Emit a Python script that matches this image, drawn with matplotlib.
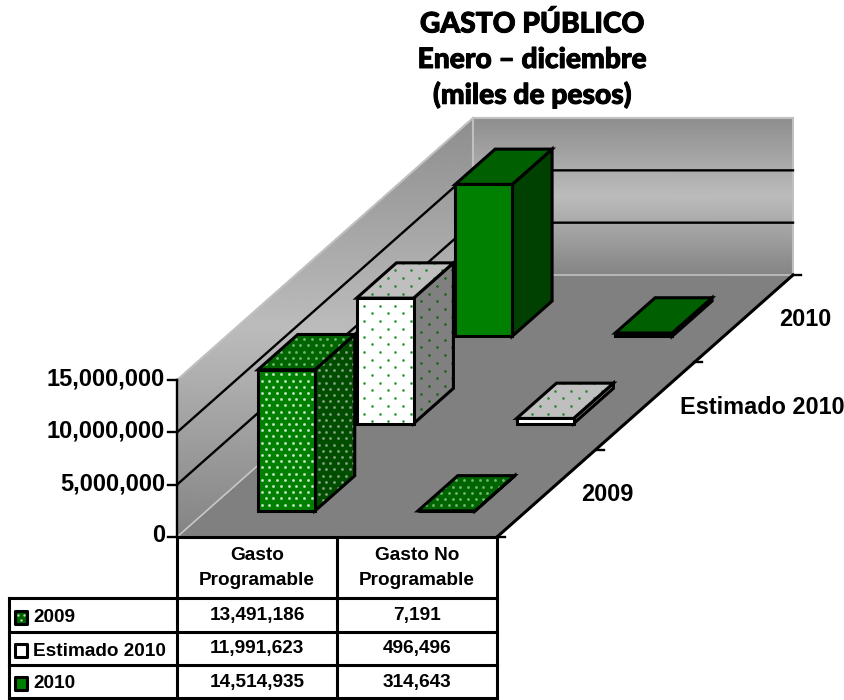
import numpy as np
import matplotlib
matplotlib.use("Agg")
import matplotlib.pyplot as plt
import matplotlib.patheffects as pe
from matplotlib.patches import Polygon
from matplotlib.colors import LinearSegmentedColormap

plt.rcParams['font.family'] = ['Liberation Sans', 'DejaVu Sans']

# data
categories = ["Gasto\nProgramable", "Gasto No\nProgramable"]
series_names = ["2009", "Estimado 2010", "2010"]
gasto_2009 = [13491186, 7191]
gasto_est = [11991623, 496496]
gasto_2010 = [14514935, 314643]
value_labels_2009 = ["13,491,186", "7,191"]
value_labels_est = ["11,991,623", "496,496"]
value_labels_2010 = ["14,514,935", "314,643"]
y_ticks = [0, 5000000, 10000000, 15000000]

# face, side, top colours, the dot colours for each of them and dot spacing
styles = [
    dict(front="#008000", side="#004d00", top="#006400", key="#006400",
         dfront="#c4e4c4", dside="#7f9f7f", dtop="#6fb56f", pitch=7.7, row=6.2, size=4.2),
    dict(front="#ffffff", side="#808080", top="#bfbfbf", key="#ffffff",
         dfront="#2e9a2e", dside="#1c641c", dtop="#2e8a2e", pitch=15.5, row=7.7, size=3.6),
    dict(front="#008000", side="#004000", top="#006000", key="#008000",
         dfront=None, dside=None, dtop=None, pitch=0, row=0, size=0),
]

# oblique projection used by Excel's 3D chart, in pixels
X0, Y0 = 177.0, 537.0
CAT_W = 160.0
SER_DX, SER_DY = 98.67, 87.33
PX_PER_UNIT = 157.0 / 15000000


def project(c, s, v):
    return X0 + CAT_W * c + SER_DX * s, Y0 - SER_DY * s - PX_PER_UNIT * v


fig = plt.figure(figsize=(8.45, 7.0), dpi=100)
ax = fig.add_axes([0, 0, 1, 1])
ax.set_xlim(0, 845)
ax.set_ylim(700, 0)
ax.axis("off")

LW = 2.2
GRID_LW = 1.7
wall_cmap = LinearSegmentedColormap.from_list(
    "wall", [(0, "#848484"), (0.5, "#bcbcbc"), (1, "#8e8e8e")])
vmax = y_ticks[-1]
vv = np.linspace(0, vmax, 60)

# left wall, the gradient runs straight up the screen
S, V = np.meshgrid(np.linspace(0, 3, 60), vv)
WX, WY = project(0, S, V)
top_y = project(0, 3, vmax)[1]
ax.pcolormesh(WX, WY, (Y0 - WY) / (Y0 - top_y), cmap=wall_cmap, shading="gouraud",
              zorder=1, vmin=0, vmax=1)
# back wall
C, V = np.meshgrid(np.array([0, 2]), vv)
WX, WY = project(C, 3, V)
ax.pcolormesh(WX, WY, V, cmap=wall_cmap, shading="gouraud", zorder=1, vmin=0, vmax=vmax)

# wall borders
for a, b in [((0, 0, vmax), (0, 3, vmax)), ((0, 3, vmax), (2, 3, vmax)),
             ((2, 3, vmax), (2, 3, 0)), ((0, 3, 0), (0, 3, vmax))]:
    p, q = project(*a), project(*b)
    ax.plot([p[0], q[0]], [p[1], q[1]], color="#c0c0c0", lw=1.5, zorder=2,
            solid_capstyle="projecting")

# floor
floor = [project(0, 0, 0), project(2, 0, 0), project(2, 3, 0), project(0, 3, 0)]
ax.add_patch(Polygon(floor, closed=True, fc="#808080", ec="none", zorder=2))
p, q = project(0, 0, 0), project(0, 3, 0)
ax.plot([p[0], q[0]], [p[1], q[1]], color="#c8c8c8", lw=1.2, zorder=2.1)
p, q = project(0, 3, 0), project(2, 3, 0)
ax.plot([p[0], q[0]], [p[1], q[1]], color="#c0c0c0", lw=1.2, zorder=2.1)

# gridlines
for v in y_ticks[1:-1]:
    a, b, d = project(0, 0, v), project(0, 3, v), project(2, 3, v)
    ax.plot([a[0], b[0], d[0]], [a[1], b[1], d[1]], color="black", lw=GRID_LW, zorder=3)

# axis lines and ticks
a, b = project(0, 0, 0), project(0, 0, vmax)
ax.plot([a[0], b[0]], [a[1], b[1]], color="black", lw=GRID_LW, zorder=4)
for v in y_ticks:
    x, y = project(0, 0, v)
    ax.plot([x - 9, x], [y, y], color="black", lw=GRID_LW, zorder=4)
    ax.text(x - 12, y - 1, f"{v:,}", ha="right", va="center", fontsize=17, fontweight="bold")

a, b = project(0, 0, 0), project(2, 0, 0)
ax.plot([a[0], b[0]], [a[1], b[1]], color="black", lw=LW, zorder=4)
a, b = project(2, 0, 0), project(2, 3, 0)
ax.plot([a[0], b[0]], [a[1], b[1]], color="black", lw=LW, zorder=4)
for s in range(4):
    x, y = project(2, s, 0)
    ax.plot([x, x + 8], [y, y], color="black", lw=GRID_LW, zorder=4)

for s, name in enumerate(series_names):
    x, y = project(2, s + 0.5, 0)
    ax.text(x + 35, y + 1, name, ha="left", va="center", fontsize=16.9, fontweight="bold")


def add_dots(poly, dots, st, z):
    # staggered dot texture clipped to the face
    pts = np.array(poly.get_xy())
    pitch = st["pitch"]
    ys = np.arange(pts[:, 1].min() - pitch, pts[:, 1].max() + pitch, st["row"])
    dx, dy = [], []
    for i, y in enumerate(ys):
        xs = np.arange(pts[:, 0].min() - pitch, pts[:, 0].max() + pitch, pitch) + (i % 2) * pitch / 2
        dx.extend(xs)
        dy.extend([y] * len(xs))
    sc = ax.scatter(dx, dy, s=st["size"], color=dots, linewidths=0, zorder=z + 0.005)
    sc.set_clip_path(poly)


def face(pts, color, dots, st, z):
    poly = Polygon(pts, closed=True, fc=color, ec="none", lw=0, zorder=z)
    ax.add_patch(poly)
    if dots is not None:
        add_dots(poly, dots, st, z)
    ax.add_patch(Polygon(pts, closed=True, fc="none", ec="black", lw=LW,
                         joinstyle="miter", zorder=z + 0.01))


def bar3d(c, s, v, st, z):
    c0, c1 = c + 0.322, c + 0.678
    s0, s1 = s + 0.298, s + 0.702
    face([project(c1, s0, 0), project(c1, s1, 0), project(c1, s1, v), project(c1, s0, v)],
         st["side"], st["dside"], st, z)
    face([project(c0, s0, v), project(c1, s0, v), project(c1, s1, v), project(c0, s1, v)],
         st["top"], st["dtop"], st, z + 0.02)
    face([project(c0, s0, 0), project(c1, s0, 0), project(c1, s0, v), project(c0, s0, v)],
         st["front"], st["dfront"], st, z + 0.04)


all_series = [gasto_2009, gasto_est, gasto_2010]
# back series first so the front ones hide them
z = 5
for s in [2, 1, 0]:
    for c in range(len(categories)):
        bar3d(c, s, all_series[s][c], styles[s], z)
        z += 1

# data table
col_x = [9.0, X0, X0 + CAT_W, X0 + 2 * CAT_W]
row_y = [537.0, 598.0, 632.0, 665.0, 698.0]
tz = 40
for x in col_x[1:]:
    ax.plot([x, x], [row_y[0], row_y[-1]], color="black", lw=LW, zorder=tz)
ax.plot([col_x[0], col_x[0]], [row_y[1], row_y[-1]], color="black", lw=LW, zorder=tz)
for y in row_y[1:]:
    ax.plot([col_x[0], col_x[-1]], [y, y], color="black", lw=LW, zorder=tz)

for i, name in enumerate(categories):
    ax.text((col_x[i + 1] + col_x[i + 2]) / 2, (row_y[0] + row_y[1]) / 2 + 0.5, name,
            ha="center", va="center", fontsize=13.7, fontweight="bold", linespacing=1.55)

rows = [value_labels_2009, value_labels_est, value_labels_2010]
for r, labels in enumerate(rows):
    ym = (row_y[r + 1] + row_y[r + 2]) / 2
    for i, lab in enumerate(labels):
        ax.text((col_x[i + 1] + col_x[i + 2]) / 2, ym + 0.5, lab, ha="center", va="center",
                fontsize=13.7, fontweight="bold")
    ax.text(33, ym + 2.5, series_names[r], ha="left", va="center", fontsize=13.7, fontweight="bold")
    st = styles[r]
    key = Polygon([(15, ym - 4.5), (27, ym - 4.5), (27, ym + 8.5), (15, ym + 8.5)], closed=True,
                  fc=st["key"], ec="black", lw=LW, joinstyle="round", zorder=tz)
    ax.add_patch(key)
    if r == 0:
        ax.scatter([18, 24, 21], [ym, ym, ym + 5], s=3, color="#b5dcb5", linewidths=0, zorder=tz + 1)

# title
title_font = ['Lato', 'DejaVu Sans']
heavy = [pe.withStroke(linewidth=0.7, foreground="black")]
for text, y in [("GASTO PÚBLICO", 24), ("Enero – diciembre", 60), ("(miles de pesos)", 95)]:
    ax.text(532.5, y, text, ha="center", va="center", fontsize=20.3, fontweight="black",
            family=title_font, path_effects=heavy)

fig.savefig("out.png", dpi=100)
